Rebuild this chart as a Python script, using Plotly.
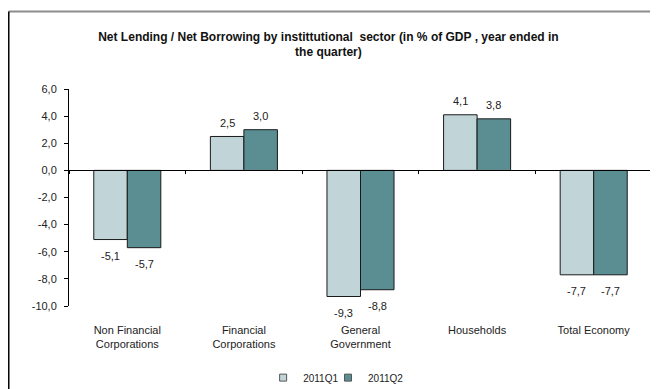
import plotly.graph_objects as go

categories = ["Non Financial<br>Corporations", "Financial<br>Corporations", "General<br>Government", "Households", "Total Economy"]
series_names = ["2011Q1", "2011Q2"]
q1_values = [-5.1, 2.5, -9.3, 4.1, -7.7]
q2_values = [-5.7, 3.0, -8.8, 3.8, -7.7]
y_ticks = [-10, -8, -6, -4, -2, 0, 2, 4, 6]
y_ticktext = [f"{v:.1f}".replace(".", ",") for v in y_ticks]

colors = ["#C1D5D8", "#5B8E92"]
FONT = "Liberation Sans, Arial, sans-serif"

fig = go.Figure()
for name, vals, col in zip(series_names, [q1_values, q2_values], colors):
    fig.add_trace(go.Bar(
        x=categories, y=vals, name=name, showlegend=False,
        marker=dict(color=col, line=dict(color="#1a1a1a", width=1)),
    ))
# legend entries with small square symbols (one legend per series for spacing control)
for name, col, lg in zip(series_names, colors, ["legend", "legend2"]):
    fig.add_trace(go.Scatter(
        x=[None], y=[None], name=name, mode="markers", legend=lg,
        marker=dict(symbol="square", size=7, color=col, line=dict(color="#555", width=1)),
    ))

# data labels
annotations = []
for i, vals in enumerate([q1_values, q2_values]):
    for c, v in zip(categories, vals):
        annotations.append(dict(
            x=c, y=v, xref="x", yref="y", text=f"{v:.1f}".replace(".", ","),
            showarrow=False, xshift=(i - 0.5) * 33.5,
            yshift=13.5 if v >= 0 else -16, yanchor="middle",
            font=dict(family=FONT, size=11, color="#222"),
        ))

legend_style = dict(
    orientation="h", xanchor="left", y=-0.33, yanchor="middle",
    font=dict(family=FONT, size=10, color="#222"),
    itemwidth=30, bgcolor="rgba(0,0,0,0)",
)

# page body has an 8px margin, so the figure is 650x381 and sits at (8, 8)
fig.update_layout(
    width=650, height=381,
    margin=dict(l=61, r=6, t=81, b=83, autoexpand=False),
    paper_bgcolor="white", plot_bgcolor="white",
    barmode="group", bargap=0.425, bargroupgap=0,
    font=dict(family=FONT, size=11, color="#222"),
    title=dict(
        text="<b>Net Lending / Net Borrowing by instittutional  sector (in % of GDP , year ended in<br>the quarter)</b>",
        x=0.493, xanchor="center", y=0.914, yanchor="middle",
        font=dict(family=FONT, size=12, color="#111"),
    ),
    showlegend=True,
    legend=dict(x=0.333, **legend_style),
    legend2=dict(x=0.4443, **legend_style),
    annotations=annotations,
    xaxis=dict(
        type="category", categoryarray=categories, range=[-0.5, 4.5],
        showline=False, ticks="", showgrid=False, zeroline=False,
        ticklabelstandoff=16, automargin=False,
        tickfont=dict(family=FONT, size=11, color="#222"),
    ),
    xaxis2=dict(
        type="category", categoryarray=categories, range=[-0.5, 4.5],
        overlaying="x", anchor="free", position=0.625, side="bottom",
        showline=True, linecolor="#000", linewidth=1,
        ticks="outside", tickson="boundaries", ticklen=3, tickcolor="#000",
        showticklabels=False, showgrid=False, zeroline=False, automargin=False,
    ),
    yaxis=dict(
        range=[-10, 6], tickvals=y_ticks, ticktext=y_ticktext,
        showline=True, linecolor="#000", linewidth=1,
        ticks="outside", ticklen=4, tickcolor="#000",
        ticklabelstandoff=5, automargin=False,
        showgrid=False, zeroline=False,
        tickfont=dict(family=FONT, size=11, color="#222"),
    ),
    shapes=[
        dict(type="line", xref="paper", yref="paper", x0=-0.1033, x1=1.02, y0=1.357, y1=1.357,
             line=dict(color="#8c8c8c", width=2)),
        dict(type="line", xref="paper", yref="paper", x0=-0.1033, x1=-0.1033, y0=1.357, y1=-0.4,
             line=dict(color="#000", width=1.5)),
    ],
)
# invisible trace to activate the zero-line category axis
fig.add_trace(go.Bar(x=categories, y=[0]*5, xaxis="x2", showlegend=False, hoverinfo="skip",
                     marker=dict(color="rgba(0,0,0,0)")))

fig.write_html("out.html")
